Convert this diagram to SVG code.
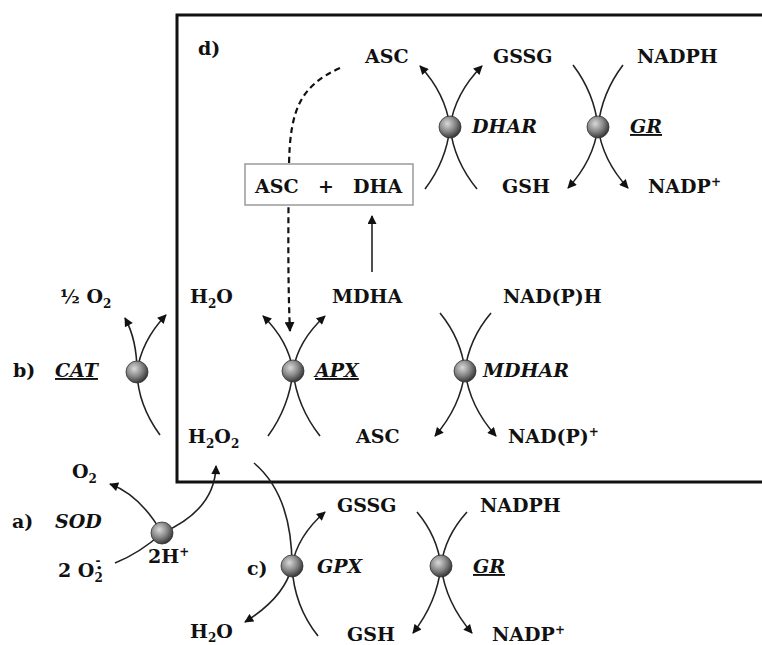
<svg xmlns="http://www.w3.org/2000/svg" width="762" height="645" viewBox="0 0 762 645">
<style>
text{font-family:"DejaVu Serif","Liberation Serif",serif;font-weight:bold;font-size:19px;fill:#111}
.it{font-style:italic}
.ul{text-decoration:underline}
.sub{font-size:12px}
.sup{font-size:12px}
.ln{fill:none;stroke:#222;stroke-width:1.6}
.ar{marker-end:url(#ah)}
.dash{fill:none;stroke:#111;stroke-width:2.2;stroke-dasharray:6 4}
.sph{fill:url(#sg);stroke:#333;stroke-width:0.8}
</style>
<defs>
<radialGradient id="sg" cx="38%" cy="35%" r="65%">
<stop offset="0" stop-color="#d9d9d9"/>
<stop offset="0.55" stop-color="#888"/>
<stop offset="1" stop-color="#3a3a3a"/>
</radialGradient>
<marker id="ah" viewBox="0 0 10 10" refX="9" refY="5" markerWidth="10" markerHeight="9" markerUnits="userSpaceOnUse" orient="auto">
<path d="M0,0 L10,5 L0,10 z" fill="#111"/>
</marker>
<marker id="ahd" viewBox="0 0 10 10" refX="9" refY="5" markerWidth="10" markerHeight="10" markerUnits="userSpaceOnUse" orient="auto">
<path d="M0,0 L10,5 L0,10 z" fill="#111"/>
</marker>
</defs>

<rect x="177" y="15" width="640" height="467" fill="none" stroke="#111" stroke-width="3"/>

<g id="connectors">
<path class="dash" d="M340,68 C300,86 290,110 289,165 C288,230 288,290 290,331" marker-end="url(#ahd)"/>
<path class="ln ar" d="M372,272 L372,216"/>
<!-- DHAR -->
<path class="ln ar" d="M450,127 Q445.5,93.5 420,66"/>
<path class="ln ar" d="M450,127 Q454.8,93.5 482,66"/>
<path class="ln" d="M450,127 Q446.3,161 425,189"/>
<path class="ln" d="M450,127 Q454,161 477,189"/>
<!-- GR top -->
<path class="ln" d="M598,127 Q594.3,93 573,65"/>
<path class="ln" d="M598,127 Q601.8,93 623,65"/>
<path class="ln ar" d="M598,127 Q593.5,160.5 568,188"/>
<path class="ln ar" d="M598,127 Q602.5,160.5 628,188"/>
<!-- APX -->
<path class="ln ar" d="M293,371 Q288.5,340.8 263,316"/>
<path class="ln ar" d="M293,371 Q297.8,340.8 325,316"/>
<path class="ln" d="M293,371 Q289.3,406.8 268,436"/>
<path class="ln" d="M293,371 Q297,406.8 320,436"/>
<!-- MDHAR -->
<path class="ln" d="M465,371 Q461.3,339 440,313"/>
<path class="ln" d="M465,371 Q468.9,339 491,313"/>
<path class="ln ar" d="M465,371 Q460.5,406.8 435,436"/>
<path class="ln ar" d="M465,371 Q469.7,406.8 496,436"/>
<!-- CAT -->
<path class="ln ar" d="M137,372 Q137,340 125,318"/>
<path class="ln ar" d="M137,372 Q141.4,340.7 166,315"/>
<path class="ln" d="M137,372 Q138,405 160,435"/>
<!-- SOD -->
<path class="ln ar" d="M162,533 Q140,495 110,484"/>
<path class="ln ar" d="M162,533 Q215,510 216,466"/>
<path class="ln" d="M162,533 Q140,553 115,563"/>
<!-- GPX -->
<path class="ln" d="M254,463 Q292,495 292,566"/>
<path class="ln ar" d="M292,566 Q297,536.3 325,512"/>
<path class="ln ar" d="M292,566 Q285,597 245,622"/>
<path class="ln" d="M292,566 Q294,606 318,636"/>
<!-- GR bottom -->
<path class="ln" d="M441,566 Q437.4,536.3 417,512"/>
<path class="ln" d="M441,566 Q444.9,536.3 467,512"/>
<path class="ln ar" d="M441,566 Q436.8,602.9 413,633"/>
<path class="ln ar" d="M441,566 Q445.7,602.9 472,633"/>
</g>

<g id="asc-dha">
<rect x="245" y="164" width="168" height="41" fill="#fff" stroke="#9a9a9a" stroke-width="1.5"/>
<text x="255" y="193">ASC</text>
<text x="318" y="193">+</text>
<text x="353" y="193">DHA</text>
</g>

<g id="dhar"><circle class="sph" cx="450" cy="127" r="11"/><text class="it" x="472" y="133">DHAR</text></g>
<g id="gr-top"><circle class="sph" cx="598" cy="127" r="11"/><text class="it ul" x="630" y="133">GR</text></g>
<g id="apx"><circle class="sph" cx="293" cy="371" r="11"/><text class="it ul" x="315" y="377">APX</text></g>
<g id="mdhar"><circle class="sph" cx="465" cy="371" r="11"/><text class="it" x="483" y="377">MDHAR</text></g>
<g id="cat"><circle class="sph" cx="137" cy="372" r="11"/><text x="13" y="377">b)</text><text class="it ul" x="55" y="377">CAT</text></g>
<g id="sod"><circle class="sph" cx="162" cy="533" r="11"/><text x="12" y="528">a)</text><text class="it" x="55" y="528">SOD</text></g>
<g id="gpx"><circle class="sph" cx="292" cy="566" r="11"/><text x="247" y="575">c)</text><text class="it" x="317" y="573">GPX</text></g>
<g id="gr-bottom"><circle class="sph" cx="441" cy="566" r="11"/><text class="it ul" x="473" y="573">GR</text></g>

<g id="labels">
<text x="198" y="55">d)</text>
<text x="365" y="63">ASC</text>
<text x="493" y="63">GSSG</text>
<text x="637" y="63">NADPH</text>
<text x="502" y="193">GSH</text>
<text x="648" y="193">NADP<tspan class="sup" dy="-7">+</tspan></text>
<text x="60" y="303">½ O<tspan class="sub" dy="5">2</tspan></text>
<text x="190" y="303">H<tspan class="sub" dy="5">2</tspan><tspan dy="-5">O</tspan></text>
<text x="332" y="303">MDHA</text>
<text x="503" y="303">NAD(P)H</text>
<text x="188" y="443">H<tspan class="sub" dy="5">2</tspan><tspan dy="-5">O</tspan><tspan class="sub" dy="5">2</tspan></text>
<text x="356" y="443">ASC</text>
<text x="508" y="443">NAD(P)<tspan class="sup" dy="-7">+</tspan></text>
<text x="72" y="478">O<tspan class="sub" dy="5">2</tspan></text>
<text x="148" y="563">2H<tspan class="sup" dy="-7">+</tspan></text>
<text x="58" y="577">2 O<tspan class="sub" dy="5">2</tspan><tspan x="95.5" y="565" style="font-size:12px">-</tspan><tspan x="96" y="571" style="font-size:10px">•</tspan></text>
<text x="337" y="512">GSSG</text>
<text x="480" y="512">NADPH</text>
<text x="190" y="638">H<tspan class="sub" dy="4">2</tspan><tspan dy="-4">O</tspan></text>
<text x="347" y="641">GSH</text>
<text x="492" y="641">NADP<tspan class="sup" dy="-7">+</tspan></text>
</g>
</svg>
